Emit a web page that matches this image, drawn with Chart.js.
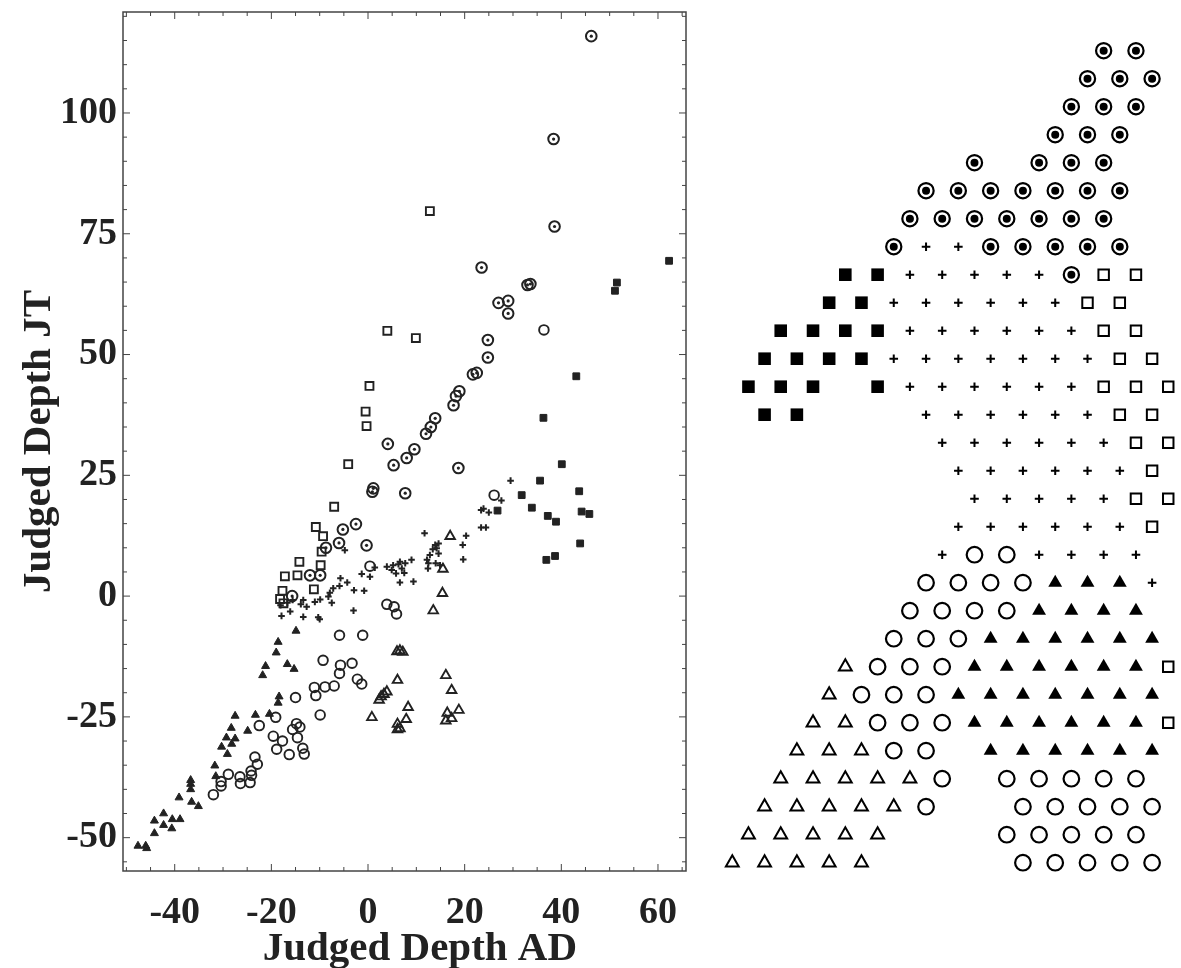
<!DOCTYPE html>
<html>
<head>
<meta charset="utf-8">
<script src="https://cdn.jsdelivr.net/npm/chart.js@4.4.1/dist/chart.umd.min.js"></script>
<style>
  html, body { margin: 0; padding: 0; background: #ffffff; }
  #wrap { position: relative; width: 1181px; height: 968px; background: #fff; }
  #left { position: absolute; left: 0; top: 0; }
  #right { position: absolute; left: 700px; top: 0; }
</style>
</head>
<body>
<div id="wrap">
  <canvas id="left" width="700" height="968"></canvas>
  <canvas id="right" width="481" height="968"></canvas>
</div>
<script>
// ---------------- LEFT PANEL DATA (Judged Depth AD vs JT) ----------------
const xTicks = [-40, -20, 0, 20, 40, 60];
const yTicks = [-50, -25, 0, 25, 50, 75, 100];

const filledTriX = [-14.9,-18.6,-19.0,-21.2,-21.8,-16.7,-15.3,-18.4,-18.6,-20.4,-23.3,-27.5,-24.9,-28.3,-29.3,-27.5,-30.3,-28.2,-29.1,-31.7,-31.5,-36.7,-36.7,-36.7,-39.1,-36.5,-35.1,-42.3,-44.2,-40.5,-38.9,-42.3,-40.6,-44.2,-47.6,-46.0,-45.8];
const filledTriY = [-7.2,-9.5,-11.7,-14.5,-16.4,-14.1,-15.1,-20.8,-22.1,-24.4,-24.6,-24.8,-27.9,-27.3,-29.3,-29.5,-31.2,-30.6,-32.7,-35.1,-37.3,-38.1,-38.9,-40.0,-41.7,-42.6,-43.5,-45.0,-46.5,-46.2,-46.2,-47.4,-48.1,-49.1,-51.7,-51.7,-52.2];

const openCircX = [-15.0,-11.1,-10.8,-9.9,-19.1,-22.5,-19.6,-17.7,-18.9,-16.3,-15.6,-14.8,-14.1,-14.6,-13.5,-13.2,-23.4,-22.9,-24.2,-24.1,-24.4,-26.5,-26.4,-28.9,-30.4,-30.4,-32.0,
  3.9,5.4,5.9,-5.9,-1.1,-9.3,-5.7,-5.9,-3.3,-2.2,-1.3,-8.9,-7.0, 0.4,26.1,36.4];
const openCircY = [-21.0,-18.9,-20.6,-24.6,-25.1,-26.8,-29.0,-30.0,-31.7,-32.8,-27.6,-26.4,-27.1,-29.3,-31.5,-32.7,-33.3,-34.8,-36.2,-37.1,-38.6,-37.4,-38.8,-36.9,-38.4,-39.3,-41.1,
  -1.7,-2.2,-3.7,-8.1,-8.1,-13.3,-14.3,-16.0,-13.9,-17.2,-18.2,-18.8,-18.6, 6.2,20.9,55.1];

const openTriX = [17.0,15.5,15.4,13.5,6.0,6.6,7.2,6.1,16.1,17.3,3.9,3.3,2.7,2.3,8.3,7.9,0.8,6.1,6.1,6.6,18.8,16.4,17.3,16.1];
const openTriY = [12.4,5.6,0.6,-3.0,-11.5,-11.3,-11.6,-17.4,-16.4,-19.5,-19.8,-20.3,-20.8,-21.5,-23.0,-25.5,-25.1,-26.5,-27.6,-27.4,-23.6,-24.2,-25.3,-25.8];

const filledSqX = [62.3,51.5,51.1,43.1,36.3,40.1,35.6,43.7,31.8,33.9,26.8,37.2,38.9,44.2,45.8,43.9,36.9,38.7];
const filledSqY = [69.4,64.9,63.2,45.5,36.9,27.3,23.9,21.7,20.9,18.3,17.7,16.6,15.4,17.5,17.0,10.9,7.5,8.3];

const openSqX = [12.8,4.0,9.9,0.3,-0.5,-0.3,-4.1,-7.0,-10.8,-9.3,-9.6,-14.2,-9.8,-17.2,-14.6,-11.2,-17.7,-18.2,-17.5];
const openSqY = [79.7,54.9,53.4,43.5,38.2,35.2,27.3,18.5,14.3,12.4,9.2,7.1,6.4,4.1,4.3,1.4,1.1,-0.6,-1.5];

const bullX = [46.2,38.4,38.6,23.5,33.0,33.6,27.0,29.0,29.0,24.8,24.8,21.7,22.5,18.9,18.2,17.7,13.9,13.0,12.0,4.1,9.6,8.0,5.3,18.7,1.1,0.9,7.7,-2.5,-5.2,-6.0,-8.7,-0.3,-12.0,-9.9,-15.7];
const bullY = [115.9,94.6,76.5,68.0,64.4,64.6,60.7,61.1,58.5,53.0,49.4,45.9,46.2,42.4,41.4,39.5,36.8,35.0,33.6,31.5,30.4,28.6,27.1,26.5,22.3,21.6,21.3,14.9,13.8,11.0,10.0,10.5,4.3,4.3,0.0];

const plusX = [29.5,27.6,23.4,23.9,25.0,23.4,24.4,20.3,19.6,19.7,11.7,
  13.9,14.6,13.4,14.6,12.8,12.2,14.0,14.9,12.4,9.0,7.7,6.6,5.2,4.9,5.8,7.5,3.9,6.3,7.0,9.4,6.6,12.5,14.2,
  -4.8,-5.7,-4.3,-2.9,-0.8,-1.3,0.4,1.4,-7.2,-7.9,-8.2,-9.9,-11.0,-13.4,-13.9,-12.7,-7.5,-3.0,-16.1,-17.9,-13.4,-10.3,-18.1,-16.7,-15.6,-10.0,-5.9];
const plusY = [23.9,19.8,17.8,18.1,17.3,14.2,14.2,12.5,10.6,7.6,13.0,
  10.6,10.9,9.7,8.8,8.5,7.5,6.8,6.4,5.7,7.5,6.8,7.1,6.4,5.4,4.7,4.8,6.1,6.6,5.7,3.0,2.8,6.8,9.9,
  9.5,3.7,2.8,1.2,1.1,4.6,4.0,5.9,1.6,0.7,-0.1,-0.7,-1.2,-0.8,-1.7,-2.2,-1.4,-3.0,-3.2,-4.1,-4.3,-4.4,-1.9,-1.4,-0.8,-4.8,2.1];

// ---------------- RIGHT PANEL DATA (pattern grid) ----------------
// rows listed from top (row 29) to bottom (row 0); values are column positions
const gridRows = [29,28,27,26,25,24,23,22,21,20,19,18,17,16,15,14,13,12,11,10,9,8,7,6,5,4,3,2,1,0];
const gridBullseye = [[23,25],[22,24,26],[21,23,25],[20,22,24],[15,19,21,23],[12,14,16,18,20,22,24],[11,13,15,17,19,21,23],[10,16,18,20,22,24],[21],[],[],[],[],[],[],[],[],[],[],[],[],[],[],[],[],[],[],[],[],[]];
const gridPlus = [[],[],[],[],[],[],[],[12,14],[11,13,15,17,19],[10,12,14,16,18,20],[11,13,15,17,19,21],[10,12,14,16,18,20,22],[11,13,15,17,19,21],[12,14,16,18,20,22],[13,15,17,19,21,23],[14,16,18,20,22,24],[15,17,19,21,23],[14,16,18,20,22,24],[13,19,21,23,25],[26],[],[],[],[],[],[],[],[],[],[]];
const gridOpenSq = [[],[],[],[],[],[],[],[],[23,25],[22,24],[23,25],[24,26],[23,25,27],[24,26],[25,27],[26],[25,27],[26],[],[],[],[],[27],[],[27],[],[],[],[],[]];
const gridFilledSq = [[],[],[],[],[],[],[],[],[7,9],[6,8],[3,5,7,9],[2,4,6,8],[1,3,5,9],[2,4],[],[],[],[],[],[],[],[],[],[],[],[],[],[],[],[]];
const gridOpenCirc = [[],[],[],[],[],[],[],[],[],[],[],[],[],[],[],[],[],[],[15,17],[12,14,16,18],[11,13,15,17],[10,12,14],[9,11,13],[8,10,12],[9,11,13],[10,12],[13,17,19,21,23,25],[12,18,20,22,24,26],[17,19,21,23,25],[18,20,22,24,26]];
const gridFilledTri = [[],[],[],[],[],[],[],[],[],[],[],[],[],[],[],[],[],[],[],[20,22,24],[19,21,23,25],[16,18,20,22,24,26],[15,17,19,21,23,25],[14,16,18,20,22,24,26],[15,17,19,21,23,25],[16,18,20,22,24,26],[],[],[],[]];
const gridOpenTri = [[],[],[],[],[],[],[],[],[],[],[],[],[],[],[],[],[],[],[],[],[],[],[7],[6],[5,7],[4,6,8],[3,5,7,9,11],[2,4,6,8,10],[1,3,5,7,9],[0,2,4,6,8]];

// ---------------- helpers ----------------
function pts(xs, ys) { return xs.map((x, i) => ({ x: x, y: ys[i] })); }
function gridPts(rowsCols) {
  const out = [];
  rowsCols.forEach((cols, i) => cols.forEach(c => out.push({ x: c, y: gridRows[i] })));
  return out;
}

const INK = '#222222';
const NONE = 'rgba(0,0,0,0)';
const serif = "'Liberation Serif', 'DejaVu Serif', serif";

const framePlugin = {
  id: 'frame',
  afterDraw(chart) {
    const a = chart.chartArea, ctx = chart.ctx;
    const xs = chart.scales.x, ys = chart.scales.y;
    ctx.save();
    ctx.strokeStyle = '#444';
    ctx.lineWidth = 1.5;
    ctx.strokeRect(a.left, a.top, a.right - a.left, a.bottom - a.top);
    ctx.lineWidth = 1;
    ctx.beginPath();
    for (let v = -50; v <= 65; v += 5) {
      const px = xs.getPixelForValue(v);
      if (px <= a.left || px >= a.right) continue;
      const len = (v % 20 === 0) ? 7 : 4;
      ctx.moveTo(px, a.bottom); ctx.lineTo(px, a.bottom - len);
      ctx.moveTo(px, a.top); ctx.lineTo(px, a.top + len);
    }
    for (let v = -55; v <= 120; v += 5) {
      const py = ys.getPixelForValue(v);
      if (py <= a.top || py >= a.bottom) continue;
      const len = (v % 25 === 0) ? 7 : 4;
      ctx.moveTo(a.left, py); ctx.lineTo(a.left + len, py);
      ctx.moveTo(a.right, py); ctx.lineTo(a.right - len, py);
    }
    ctx.stroke();
    ctx.restore();
  }
};

// ---------------- LEFT CHART ----------------
new Chart(document.getElementById('left').getContext('2d'), {
  type: 'scatter',
  data: {
    datasets: [
      { data: pts(filledTriX, filledTriY), pointStyle: 'triangle', radius: 4.6, backgroundColor: INK, borderColor: INK, borderWidth: 1 },
      { data: pts(openCircX, openCircY), pointStyle: 'circle', radius: 4.8, backgroundColor: NONE, borderColor: INK, borderWidth: 1.9 },
      { data: pts(openTriX, openTriY), pointStyle: 'triangle', radius: 5.5, backgroundColor: NONE, borderColor: INK, borderWidth: 1.9 },
      { data: pts(filledSqX, filledSqY), pointStyle: 'rect', radius: 4.8, backgroundColor: INK, borderColor: INK, borderWidth: 1 },
      { data: pts(openSqX, openSqY), pointStyle: 'rect', radius: 5.6, backgroundColor: NONE, borderColor: INK, borderWidth: 1.9 },
      { data: pts(bullX, bullY), pointStyle: 'circle', radius: 5.3, backgroundColor: NONE, borderColor: INK, borderWidth: 2.0 },
      { data: pts(bullX, bullY), pointStyle: 'circle', radius: 1.6, backgroundColor: INK, borderColor: INK, borderWidth: 0 },
      { data: pts(plusX, plusY), pointStyle: 'cross', radius: 3.3, backgroundColor: INK, borderColor: INK, borderWidth: 2.0 }
    ]
  },
  options: {
    responsive: false,
    animation: false,
    events: [],
    layout: { autoPadding: false, padding: { left: 19, top: 12, right: 14, bottom: 0 } },
    plugins: { legend: { display: false }, tooltip: { enabled: false } },
    scales: {
      x: {
        type: 'linear', min: -50.7, max: 65.8,
        afterBuildTicks: s => { s.ticks = xTicks.map(v => ({ value: v })); },
        afterFit: s => { s.height = 97; s.paddingLeft = 0; s.paddingRight = 0; },
        grid: { display: false, drawTicks: false },
        border: { display: false },
        ticks: { color: '#222', padding: 19, maxRotation: 0, font: { family: serif, size: 38, weight: 'bold' } },
        title: { display: true, text: '   Judged Depth AD', color: '#222', padding: 0, font: { family: serif, size: 41, weight: 'bold', lineHeight: 0.9 } }
      },
      y: {
        type: 'linear', min: -56.9, max: 120.9,
        afterBuildTicks: s => { s.ticks = yTicks.map(v => ({ value: v })); },
        afterFit: s => { s.width = 104; s.paddingTop = 0; s.paddingBottom = 0; },
        grid: { display: false, drawTicks: false },
        border: { display: false },
        ticks: { color: '#222', padding: 6, font: { family: serif, size: 38, weight: 'bold' } },
        title: { display: true, text: 'Judged Depth JT', color: '#222', padding: 0, font: { family: serif, size: 41, weight: 'bold', lineHeight: 1 } }
      }
    }
  },
  plugins: [framePlugin]
});

// ---------------- RIGHT CHART ----------------
const BLK = '#000';
new Chart(document.getElementById('right').getContext('2d'), {
  type: 'scatter',
  data: {
    datasets: [
      { data: gridPts(gridBullseye), pointStyle: 'circle', radius: 7.6, backgroundColor: NONE, borderColor: BLK, borderWidth: 2.2 },
      { data: gridPts(gridBullseye), pointStyle: 'circle', radius: 4.0, backgroundColor: BLK, borderColor: BLK, borderWidth: 0 },
      { data: gridPts(gridPlus), pointStyle: 'cross', radius: 4.3, backgroundColor: BLK, borderColor: BLK, borderWidth: 2 },
      { data: gridPts(gridOpenSq), pointStyle: 'rect', radius: 7.4, backgroundColor: NONE, borderColor: BLK, borderWidth: 2 },
      { data: gridPts(gridFilledSq), pointStyle: 'rect', radius: 8.9, backgroundColor: BLK, borderColor: BLK, borderWidth: 0 },
      { data: gridPts(gridOpenCirc), pointStyle: 'circle', radius: 7.8, backgroundColor: NONE, borderColor: BLK, borderWidth: 2.2 },
      { data: gridPts(gridFilledTri), pointStyle: 'triangle', radius: 8.0, backgroundColor: BLK, borderColor: BLK, borderWidth: 0 },
      { data: gridPts(gridOpenTri), pointStyle: 'triangle', radius: 7.4, backgroundColor: NONE, borderColor: BLK, borderWidth: 2 }
    ]
  },
  options: {
    responsive: false,
    animation: false,
    events: [],
    layout: { autoPadding: false, padding: 0 },
    clip: false,
    plugins: { legend: { display: false }, tooltip: { enabled: false } },
    scales: {
      x: { type: 'linear', min: -2.0, max: 27.79, display: false },
      y: { type: 'linear', min: -3.76, max: 30.81, display: false }
    }
  }
});
</script>
</body>
</html>
